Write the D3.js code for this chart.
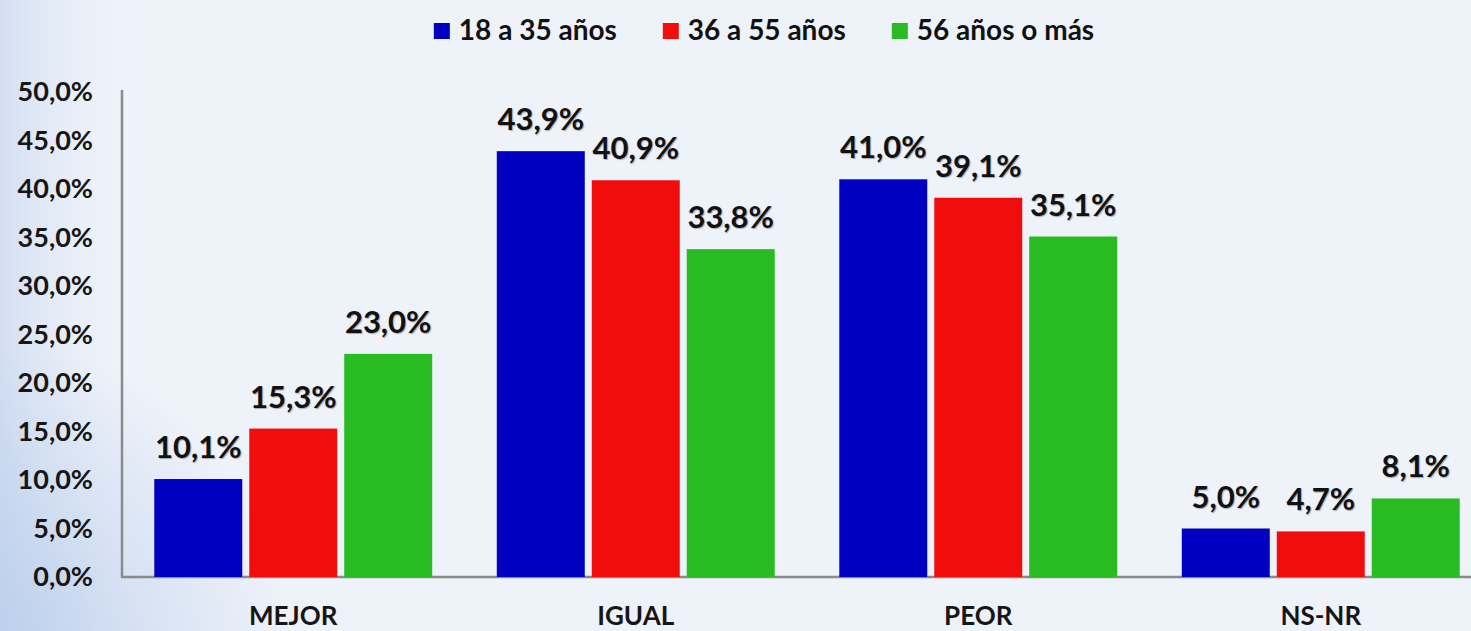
<!DOCTYPE html>
<html>
<head>
<meta charset="utf-8">
<script src="https://cdn.jsdelivr.net/npm/d3@7"></script>
<style>
  body { margin: 0; overflow: hidden; }
  svg { display: block; font-family: Lato, "Open Sans", sans-serif; font-weight: 700; }
  .bar-label { text-shadow: 1px 1px 1px rgba(0,0,0,0.3); }
</style>
</head>
<body>
<div id="chart"></div>
<script>
// chart values
const categories = ["MEJOR", "IGUAL", "PEOR", "NS-NR"];
const series = ["18 a 35 años", "36 a 55 años", "56 años o más"];
const values18to35 = [10.1, 43.9, 41.0, 5.0];
const values36to55 = [15.3, 40.9, 39.1, 4.7];
const values56plus = [23.0, 33.8, 35.1, 8.1];
const yTicks = [0, 5, 10, 15, 20, 25, 30, 35, 40, 45, 50];

const colors = ["#0000c0", "#f20d0d", "#29bb22"];
const seriesValues = [values18to35, values36to55, values56plus];

const width = 1471, height = 631;
const margin = { top: 92, left: 122, bottom: 577 };

const svg = d3.select("#chart").append("svg")
    .attr("width", width)
    .attr("height", height);

// background: pale blue with a darker wash at the lower left
const defs = svg.append("defs");
const glow = defs.append("radialGradient")
    .attr("id", "bgglow")
    .attr("gradientUnits", "userSpaceOnUse")
    .attr("cx", -40).attr("cy", 660).attr("r", 330);
glow.append("stop").attr("offset", "0%").attr("stop-color", "#b9cdec").attr("stop-opacity", 1);
glow.append("stop").attr("offset", "100%").attr("stop-color", "#b9cdec").attr("stop-opacity", 0);

const edge = defs.append("linearGradient")
    .attr("id", "bgedge")
    .attr("x1", 0).attr("x2", 1).attr("y1", 0).attr("y2", 0);
edge.append("stop").attr("offset", "0%").attr("stop-color", "#d3dff2");
edge.append("stop").attr("offset", "9%").attr("stop-color", "#edf1f9").attr("stop-opacity", 0);

svg.append("rect").attr("width", width).attr("height", height).attr("fill", "#eef2f9");
svg.append("rect").attr("width", width).attr("height", height).attr("fill", "url(#bgedge)");
svg.append("rect").attr("width", width).attr("height", height).attr("fill", "url(#bgglow)");

// scales
const x = d3.scaleBand()
    .domain(categories)
    .range([margin.left, margin.left + 4 * 342.5]);

const xInner = d3.scaleBand()
    .domain(series)
    .range([0, x.bandwidth()])
    .paddingInner(0.0737)
    .paddingOuter(0.34);

const y = d3.scaleLinear()
    .domain([0, 50])
    .range([margin.bottom, margin.top]);

const locale = d3.formatLocale({ decimal: ",", thousands: ".", grouping: [3], currency: ["", "€"] });
const fmt = locale.format(".1f");
const pct = d => fmt(d) + "%";

// axes
const yAxis = d3.axisLeft(y)
    .tickValues(yTicks)
    .tickFormat(pct)
    .tickSize(0)
    .tickPadding(29);

const gy = svg.append("g")
    .attr("transform", `translate(${margin.left},0)`)
    .call(yAxis);
gy.select(".domain").attr("stroke", "#8a8a8a").attr("stroke-width", 2.5)
    .attr("d", `M0,${margin.bottom}V${margin.top - 2}`);
gy.selectAll("text")
    .attr("font-size", 27)
    .attr("font-family", "Lato, sans-serif")
    .attr("font-weight", 700)
    .attr("fill", "#161616");

const xAxis = d3.axisBottom(x).tickSize(0).tickPadding(30);
const gx = svg.append("g")
    .attr("transform", `translate(0,${margin.bottom})`)
    .call(xAxis);
gx.select(".domain").attr("stroke", "#8a8a8a").attr("stroke-width", 2.5)
    .attr("d", `M${margin.left - 1},0H${width}`);
gx.selectAll("text")
    .attr("font-size", 26)
    .attr("font-family", "Lato, sans-serif")
    .attr("font-weight", 700)
    .attr("fill", "#161616");

// bars
const rows = [];
categories.forEach((c, i) => {
    series.forEach((s, j) => {
        rows.push({ cat: c, ser: s, idx: j, value: seriesValues[j][i] });
    });
});

svg.append("g").selectAll("rect")
    .data(rows)
    .enter()
    .append("rect")
    .attr("x", d => x(d.cat) + xInner(d.ser))
    .attr("y", d => y(d.value))
    .attr("width", xInner.bandwidth())
    .attr("height", d => y(0) - y(d.value))
    .attr("fill", d => colors[d.idx]);

svg.append("g").selectAll("text")
    .data(rows)
    .enter()
    .append("text")
    .attr("class", "bar-label")
    .attr("x", d => x(d.cat) + xInner(d.ser) + xInner.bandwidth() / 2)
    .attr("y", d => y(d.value) - 21)
    .attr("text-anchor", "middle")
    .attr("font-size", 31)
    .attr("fill", "#111")
    .text(d => pct(d.value));

// legend, centred over the plot
const legend = svg.append("g");
const items = legend.selectAll("g")
    .data(series)
    .enter()
    .append("g");

items.append("rect")
    .attr("width", 16)
    .attr("height", 16)
    .attr("y", 23)
    .attr("fill", (d, i) => colors[i]);

items.append("text")
    .attr("x", 25)
    .attr("y", 40)
    .attr("font-size", 28)
    .attr("fill", "#111")
    .text(d => d);

let offset = 0;
items.each(function() {
    const w = d3.select(this).select("text").node().getComputedTextLength();
    d3.select(this).attr("transform", `translate(${offset},0)`);
    offset += 25 + w + 46;
});
const legendWidth = offset - 46;
legend.attr("transform", `translate(${764 - legendWidth / 2},0)`);
</script>
</body>
</html>
